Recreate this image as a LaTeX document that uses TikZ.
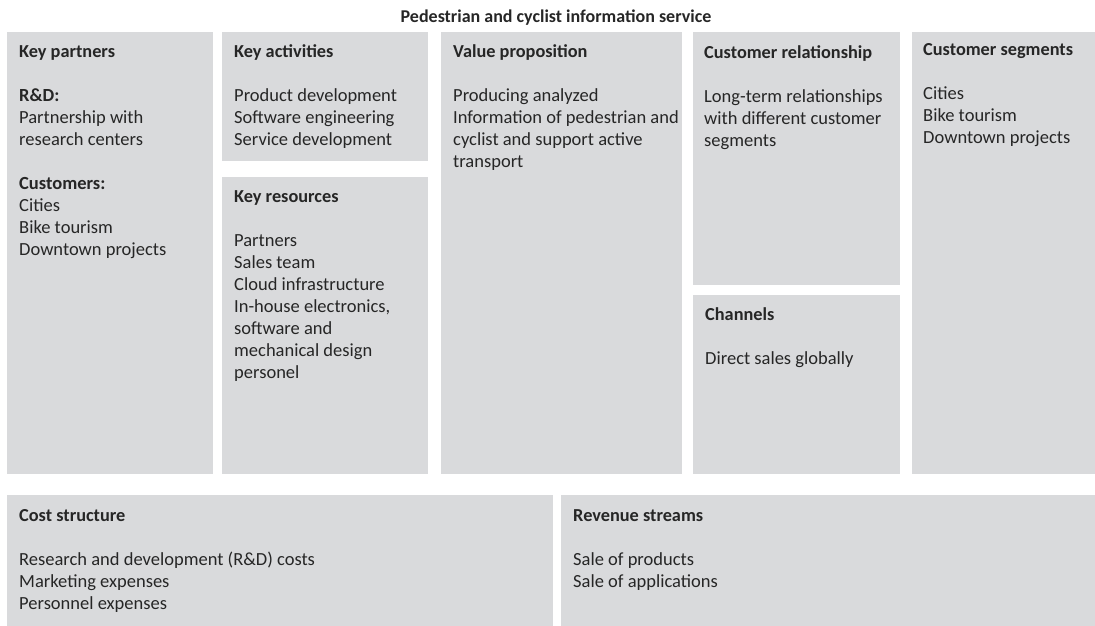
\documentclass[tikz,border=0pt]{standalone}
\usepackage{fontspec}
\setmainfont{Carlito}
\definecolor{boxgray}{RGB}{217,218,220}
\definecolor{ink}{RGB}{38,38,38}
\begin{document}
\begin{tikzpicture}[x=1pt,y=-1pt,
  box/.style={fill=boxgray, draw=none, anchor=north west, inner sep=0pt},
  txt/.style={anchor=north west, inner sep=0pt, align=left, text=ink,
    font=\fontsize{18.5}{22}\selectfont}]
\useasboundingbox (0,0) rectangle (1095,626);
% heading line starts with a fixed-height strut so the baseline sits 16pt below the node top
\newcommand\hd[1]{\rule{0pt}{16pt}{\fontsize{18.3}{22}\selectfont\bfseries #1}\\[22pt]}

\node[anchor=base, inner sep=0pt, text=ink, font=\fontsize{18}{21}\selectfont\bfseries]
  (title) at (556,23) {Pedestrian and cyclist information service};

% upper row of blocks
\node[box, minimum width=206, minimum height=442] (kp) at (7,32) {};
\node[box, minimum width=206, minimum height=129] (ka) at (222,32) {};
\node[box, minimum width=206, minimum height=297] (kr) at (222,177) {};
\node[box, minimum width=241, minimum height=442] (vp) at (441,32) {};
\node[box, minimum width=207, minimum height=253] (cr) at (693,32) {};
\node[box, minimum width=207, minimum height=179] (ch) at (693,295) {};
\node[box, minimum width=183, minimum height=442] (cs) at (912,32) {};
% lower row of blocks
\node[box, minimum width=546, minimum height=131] (cost) at (7,495) {};
\node[box, minimum width=534, minimum height=131] (rev) at (561,495) {};

\node[txt] (kpT) at ([shift={(12,9)}]kp.north west)
  {\hd{Key partners}\textbf{R\&D:}\\Partnership with\\research centers\\[22pt]
   \textbf{Customers:}\\Cities\\Bike tourism\\Downtown projects};
\node[txt] (kaT) at ([shift={(12,9)}]ka.north west)
  {\hd{Key activities}Product development\\Software engineering\\Service development};
\node[txt] (krT) at ([shift={(12,9)}]kr.north west)
  {\hd{Key resources}Partners\\Sales team\\Cloud infrastructure\\In-house electronics,\\software and\\mechanical design\\personel};
\node[txt] (vpT) at ([shift={(12,9)}]vp.north west)
  {\hd{Value proposition}Producing analyzed\\Information of pedestrian and\\cyclist and support active\\transport};
\node[txt] (crT) at ([shift={(11,10)}]cr.north west)
  {\hd{Customer relationship}Long-term relationships\\with different customer\\segments};
\node[txt] (chT) at ([shift={(12,9)}]ch.north west)
  {\hd{Channels}Direct sales globally};
\node[txt] (csT) at ([shift={(11,7)}]cs.north west)
  {\hd{Customer segments}Cities\\Bike tourism\\Downtown projects};
\node[txt] (costT) at ([shift={(12,10)}]cost.north west)
  {\hd{Cost structure}Research and development (R\&D) costs\\Marketing expenses\\Personnel expenses};
\node[txt] (revT) at ([shift={(12,10)}]rev.north west)
  {\hd{Revenue streams}Sale of products\\Sale of applications};
\end{tikzpicture}
\end{document}
